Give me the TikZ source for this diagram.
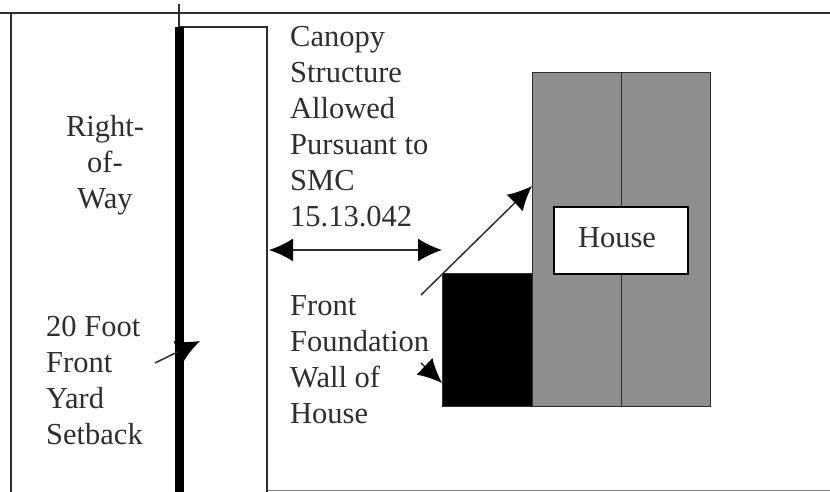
\documentclass[tikz,border=0pt]{standalone}
\usepackage{fontspec}
\setmainfont{Liberation Serif}
\usepackage{xcolor}
\usetikzlibrary{arrows.meta}
\definecolor{inkgray}{HTML}{2E2E2E}
\definecolor{roofgray}{HTML}{8E8E8E}
\tikzset{
  lbl/.style={align=left,anchor=north west,inner sep=0pt,text=inkgray,font=\fontsize{30.5}{36}\selectfont},
  part/.style={draw=inkgray,line width=1.3pt,minimum height=#1,inner sep=0pt,anchor=north west},
  ptr/.style={inkgray,line width=1.5pt,-{Latex[black,length=24pt,width=23pt]}},
}
\begin{document}
\begin{tikzpicture}[x=1pt,y=-1pt]
\useasboundingbox (0,0) rectangle (830,492);
% frame
\draw[inkgray,line width=1.6pt] (0,13) -- (830,13);
\draw[inkgray,line width=1.6pt] (11,13) -- (11,492);
\draw[gray,line width=1.2pt] (267,490.5) -- (830,490.5);
% setback and canopy
\draw[inkgray,line width=1.4pt] (179,27) -- (267,27) -- (267,492);
\draw[inkgray,line width=1.2pt] (179,4) -- (179,27);
\draw[black,line width=8.5pt] (179.5,27) -- (179.5,492);
% house
\node[part=334pt,fill=roofgray,minimum width=89pt] (left) at (532,72) {};
\node[part=334pt,fill=roofgray,minimum width=89pt] (right) at (621,72) {};
\node[part=133pt,fill=black,minimum width=90pt] (wall) at (442,273) {};
\node[draw=black,line width=1.5pt,fill=white,minimum width=134pt,minimum height=67pt,inner sep=0pt] (house) at (621,240.5) {};
\node[lbl,anchor=center] (houselbl) at (617,238) {House};
% labels
\node[lbl,align=center,anchor=north] (row) at (105,115) {Right-\\of-\\Way};
\node[lbl] (setback) at (46,316) {20 Foot\\Front\\Yard\\Setback};
\node[lbl] (canopy) at (290,26) {Canopy\\Structure\\Allowed\\Pursuant to\\SMC\\15.13.042};
\node[lbl] (found) at (290,295) {Front\\Foundation\\Wall of\\House};
% arrows
\coordinate (spanl) at (269,250);
\coordinate (spanr) at (442,250);
\coordinate (roofs) at (421,295);
\coordinate (roofe) at (532,186);
\coordinate (walls) at (421,363);
\coordinate (walle) at (442,383);
\coordinate (backs) at (155,363);
\coordinate (backe) at (200,341);
\draw[ptr,{Latex[black,length=24pt,width=23pt]}-{Latex[black,length=24pt,width=23pt]}] (spanl) -- (spanr);
\draw[ptr] (roofs) -- (roofe);
\draw[ptr] (walls) -- (walle);
\draw[ptr] (backs) -- (backe);
\end{tikzpicture}
\end{document}
